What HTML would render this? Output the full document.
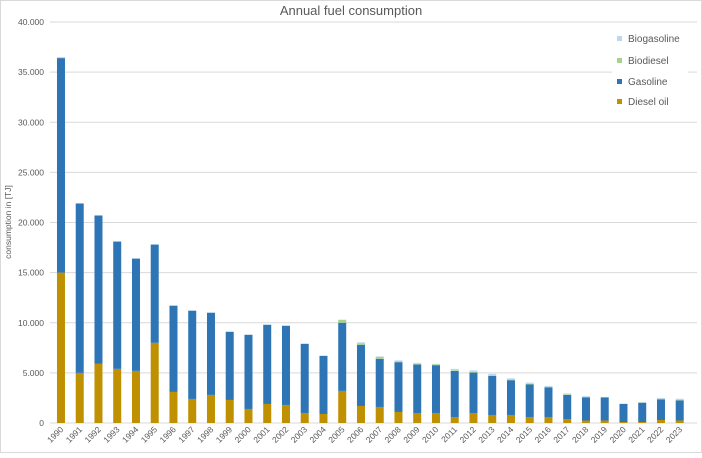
<!DOCTYPE html>
<html><head><meta charset="utf-8">
<style>
html,body{margin:0;padding:0;background:#fff;}
body{width:702px;height:453px;overflow:hidden;font-family:"Liberation Sans",sans-serif;}
svg text{font-family:"Liberation Sans",sans-serif;}
</style></head>
<body>
<svg id="chart" width="702" height="453">
<rect x="0.5" y="0.5" width="701" height="452" fill="#fff" stroke="#d9d9d9"/>
<text x="351" y="15" text-anchor="middle" font-size="13" fill="#595959">Annual fuel consumption</text>
<text transform="translate(11,222) rotate(-90)" text-anchor="middle" font-size="8.5" fill="#595959">consumption in [TJ]</text>
<g id="grid"></g><g id="bars"></g><g id="xlabels"></g>
<g>
<rect x="612" y="30" width="76" height="82" fill="#fff"/>
<g><rect x="617" y="36" width="5" height="5" fill="#bdd7ee"/><text x="628" y="42" font-size="10" fill="#595959">Biogasoline</text></g>
<g><rect x="617" y="58" width="5" height="5" fill="#a9d18e"/><text x="628" y="64" font-size="10" fill="#595959">Biodiesel</text></g>
<g><rect x="617" y="79" width="5" height="5" fill="#2e75b6"/><text x="628" y="85" font-size="10" fill="#595959">Gasoline</text></g>
<g><rect x="617" y="99" width="5" height="5" fill="#bf9000"/><text x="628" y="105" font-size="10" fill="#595959">Diesel oil</text></g>
</g>
</svg>
<script>
const years=[1990,1991,1992,1993,1994,1995,1996,1997,1998,1999,2000,2001,2002,2003,2004,2005,2006,2007,2008,2009,2010,2011,2012,2013,2014,2015,2016,2017,2018,2019,2020,2021,2022,2023];
const diesel=[15000,5000,5900,5400,5200,8000,3100,2400,2800,2300,1400,1900,1800,1000,900,3200,1700,1600,1100,1000,1000,600,1000,800,800,600,600,400,250,250,100,100,300,250];
const gasoline=[21400,16900,14800,12700,11200,9800,8600,8800,8200,6800,7400,7900,7900,6900,5800,6800,6100,4800,4970,4830,4770,4600,4030,3900,3470,3240,2940,2400,2300,2300,1800,1900,2050,2000];
const biodiesel=[0,0,0,0,0,0,0,0,0,0,0,0,0,0,0,300,150,200,80,80,80,60,80,60,80,60,60,60,50,20,20,40,60,40];
const biogasoline=[100,0,0,0,0,0,50,50,0,0,0,0,0,0,0,0,100,50,100,90,50,140,140,140,100,130,100,90,80,30,30,60,90,130];
const yTicks=[0,5000,10000,15000,20000,25000,30000,35000,40000];
const yTickLabels=["0","5.000","10.000","15.000","20.000","25.000","30.000","35.000","40.000"];
const NS="http://www.w3.org/2000/svg";
const x0=51.6,cw=18.75,bw=8,y0=423,ymax=40000,yTop=22;
const yS=v=>y0-(v/ymax)*(y0-yTop);
const xS=i=>x0+cw*i+cw/2;
function mk(t,a){const e=document.createElementNS(NS,t);for(const k in a)e.setAttribute(k,a[k]);return e;}
const grid=document.getElementById('grid');
yTicks.forEach((v,i)=>{
  const l=mk('line',{x1:50,x2:697,y1:yS(v),y2:yS(v),stroke:'#d9d9d9','stroke-width':1});
  
  
  grid.appendChild(l);
  const t=mk('text',{x:44,y:yS(v)+3,'text-anchor':'end','font-size':8.5,fill:'#595959'});
  t.textContent=yTickLabels[i];
  
  
  grid.appendChild(t);
});
const bars=document.getElementById('bars');
const series=[[diesel,'#bf9000','diesel'],[gasoline,'#2e75b6','gasoline'],[biodiesel,'#a9d18e','biodiesel'],[biogasoline,'#bdd7ee','biogasoline']];
const xl=document.getElementById('xlabels');
years.forEach((yr,i)=>{
  let base=0;
  series.forEach(([arr,col,nm])=>{
    const v=arr[i];
    if(v>0){
      const r=mk('rect',{x:xS(i)-bw/2,y:yS(base+v),width:bw,height:yS(base)-yS(base+v),fill:col});
      
      
      bars.appendChild(r);
    }
    base+=v;
  });
  const t=mk('text',{transform:`translate(${xS(i)+3},${y0+7}) rotate(-45)`,'text-anchor':'end','font-size':8.5,fill:'#595959'});
  t.textContent=yr;
  
  
  xl.appendChild(t);
});
</script>
</body></html>
